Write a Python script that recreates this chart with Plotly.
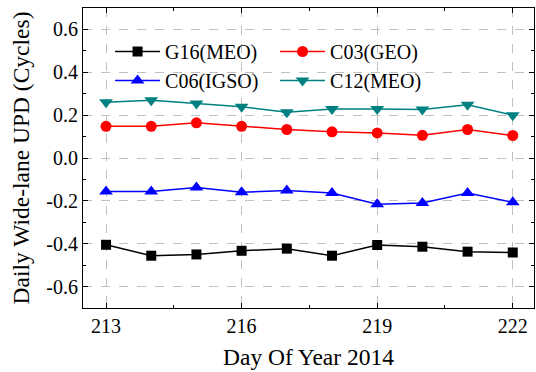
import plotly.graph_objects as go

days = [213, 214, 215, 216, 217, 218, 219, 220, 221, 222]
g16 = [-0.405, -0.456, -0.450, -0.433, -0.423, -0.456, -0.406, -0.414, -0.437, -0.441]
c03 = [0.148, 0.148, 0.164, 0.148, 0.133, 0.122, 0.117, 0.106, 0.133, 0.105]
c06 = [-0.156, -0.156, -0.138, -0.160, -0.152, -0.163, -0.216, -0.210, -0.163, -0.207]
c12 = [0.260, 0.270, 0.254, 0.239, 0.213, 0.229, 0.229, 0.226, 0.248, 0.200]

series = [
    ("G16(MEO)", g16, "black", "square", 10),
    ("C03(GEO)", c03, "red", "circle", 11),
    ("C06(IGSO)", c06, "blue", "triangle-up", 12),
    ("C12(MEO)", c12, "#008080", "triangle-down", 12),
]

fig = go.Figure()
for name, ys, col, sym, sz in series:
    fig.add_trace(go.Scatter(x=days, y=ys, name=name, mode="lines+markers",
                             line=dict(color=col, width=1.5),
                             marker=dict(symbol=sym, size=sz, color=col)))

font = "Liberation Serif, Times New Roman, serif"
axis_common = dict(showline=True, linecolor="black", linewidth=1.2, mirror="allticks",
                   ticks="inside", ticklen=5, tickcolor="black",
                   showgrid=True, gridcolor="#c0c0c0", griddash="dash", gridwidth=1,
                   zeroline=False, tickfont=dict(family=font, size=20, color="black"))
fig.update_xaxes(range=[212.49, 222.47], tickvals=[213, 216, 219, 222],
                 minor=dict(tickvals=[214.5, 217.5, 220.5], ticks="inside", ticklen=3, tickcolor="black", showgrid=False),
                 title=dict(text="Day Of Year 2014", font=dict(family=font, size=23.5, color="black"), standoff=12),
                 **axis_common)
fig.update_yaxes(range=[-0.7, 0.7], tickvals=[-0.6, -0.4, -0.2, 0.0, 0.2, 0.4, 0.6],
                 ticktext=["-0.6", "-0.4", "-0.2", "0.0", "0.2", "0.4", "0.6"],
                 minor=dict(dtick=0.1, tick0=0.1, ticks="inside", ticklen=3, tickcolor="black", showgrid=False),
                 title=dict(text="Daily Wide-lane UPD (Cycles)", font=dict(family=font, size=23.5, color="black"), standoff=10),
                 **axis_common)
fig.update_layout(width=536, height=372, margin=dict(l=83, r=2, t=8, b=64),
                  plot_bgcolor="white", paper_bgcolor="white",
                  legend=dict(orientation="h", x=0.06, y=0.92, xanchor="left", yanchor="top",
                              entrywidth=105, entrywidthmode="pixels", bgcolor="rgba(0,0,0,0)",
                              font=dict(family=font, size=20, color="black"),
                              itemwidth=45, tracegroupgap=0))
fig.write_html("out.html")
